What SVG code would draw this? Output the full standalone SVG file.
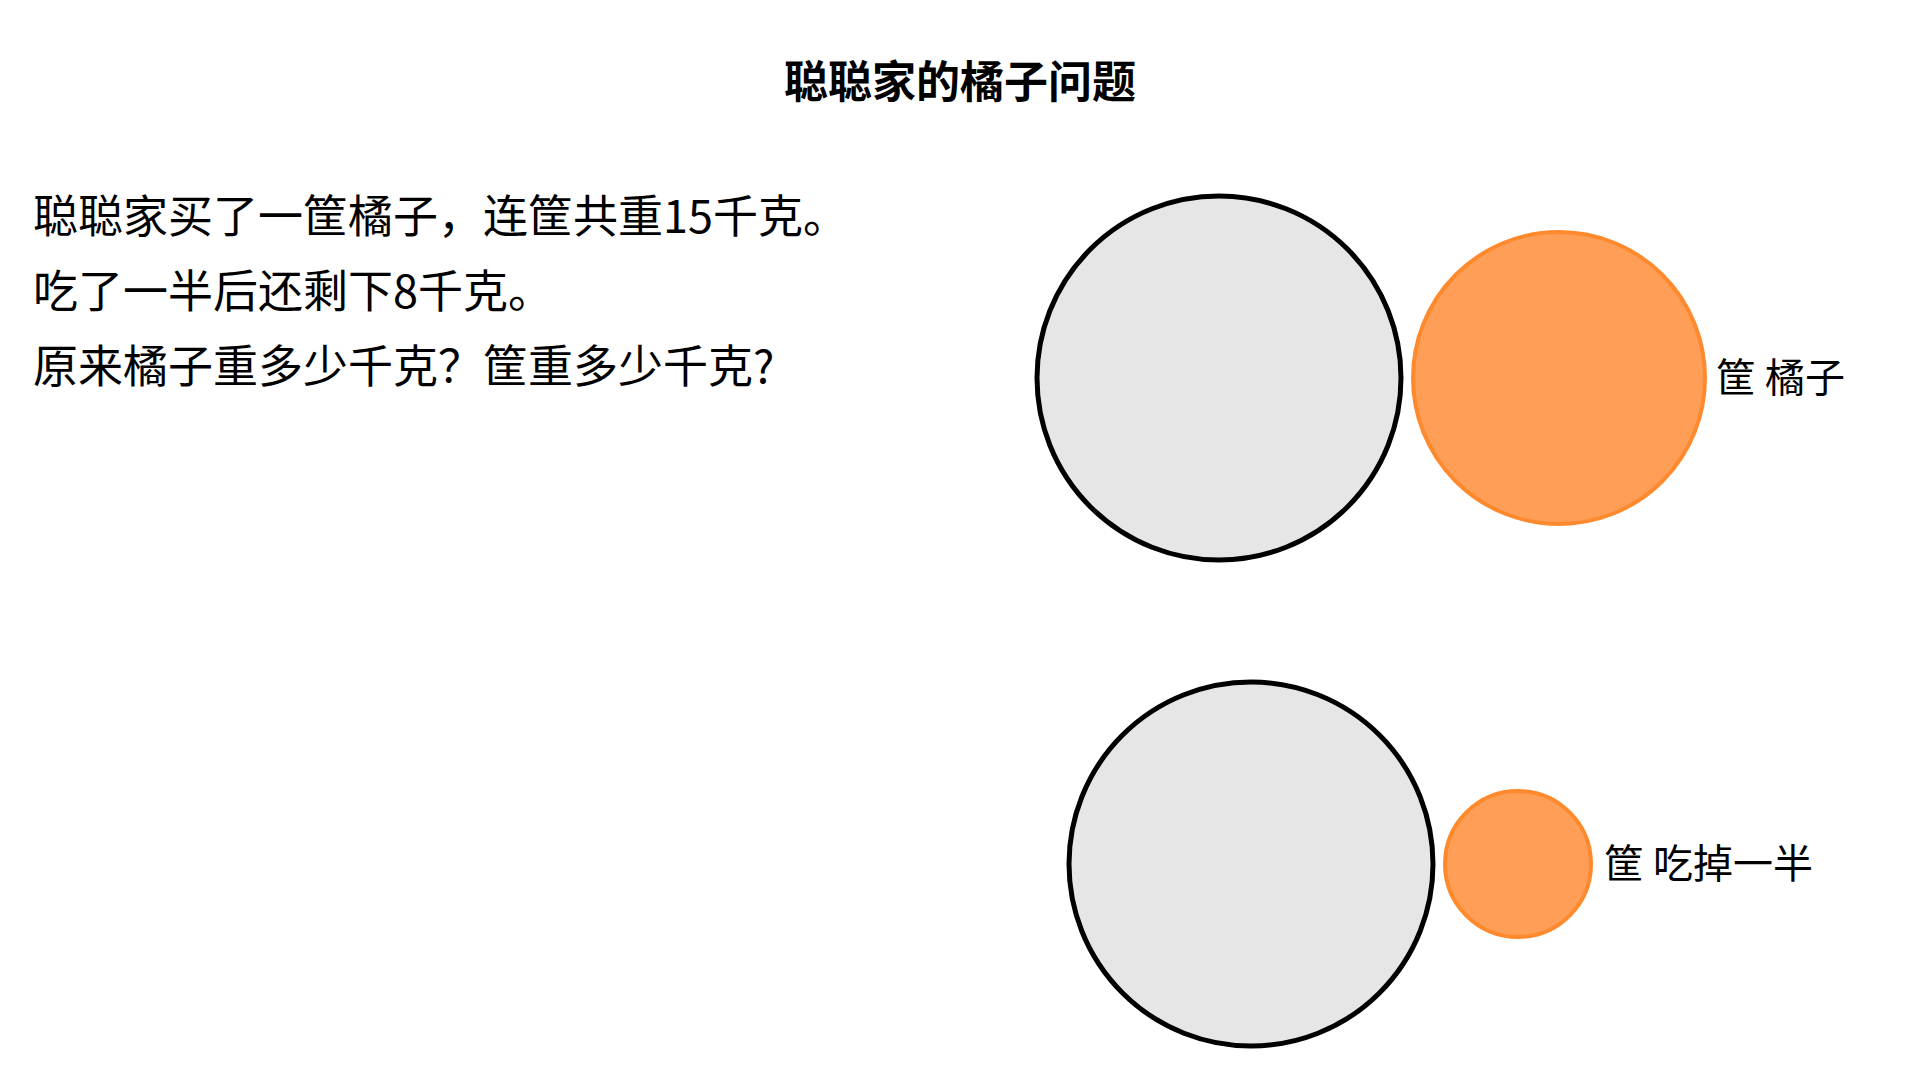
<svg xmlns="http://www.w3.org/2000/svg" width="1920" height="1080" viewBox="0 0 1920 1080">
<style>
.t{font-family:"Noto Sans CJK SC","Noto Sans",sans-serif;fill:#000;}
.title{font-size:44px;font-weight:bold;text-anchor:middle;dominant-baseline:central;}
.body{font-size:45px;dominant-baseline:central;}
.lbl{font-size:40px;dominant-baseline:central;}
.box{fill:#E6E6E6;stroke:#000;stroke-width:5;}
.org{fill:#FE9E57;stroke:#FF8A2E;stroke-width:4;}
</style>
<rect width="1920" height="1080" fill="#FFFFFF"/>
<text id="title" class="t title" x="960" y="79">聪聪家的橘子问题</text>
<g id="problem">
<text class="t body" x="33" y="213">聪聪家买了一筐橘子，连筐共重15千克。</text>
<text class="t body" x="33" y="288">吃了一半后还剩下8千克。</text>
<text class="t body" x="33" y="363">原来橘子重多少千克？筐重多少千克?</text>
</g>
<g id="connectors"></g>
<g id="basket1"><circle class="box" cx="1219" cy="378" r="182"/></g>
<g id="orange1"><circle class="org" cx="1559" cy="378" r="146"/></g>
<g id="label1"><text class="t lbl" x="1716" y="375">筐 橘子</text></g>
<g id="basket2"><circle class="box" cx="1251" cy="864" r="182"/></g>
<g id="orange2"><circle class="org" cx="1518" cy="864" r="73"/></g>
<g id="label2"><text class="t lbl" x="1604" y="861">筐 吃掉一半</text></g>
</svg>
